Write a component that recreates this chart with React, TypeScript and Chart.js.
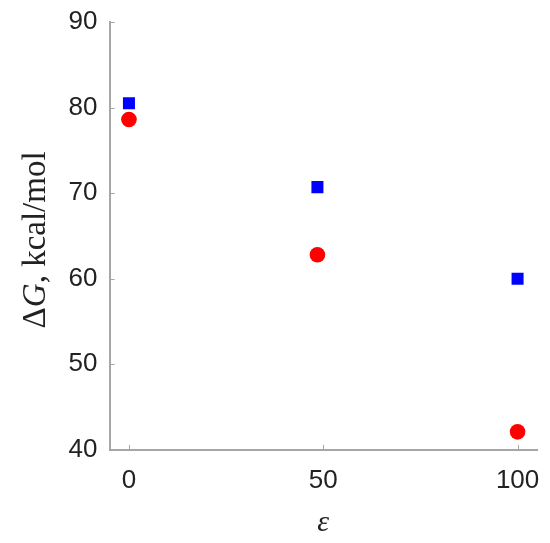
import React, { useEffect, useRef } from "react";
import { Chart, registerables } from "chart.js";

Chart.register(...registerables);

const epsBlue = [0, 48.5, 100];
const dGBlue = [80.5, 70.7, 60.0];
const epsRed = [0, 48.5, 100];
const dGRed = [78.6, 62.8, 42.1];
const xTicks = [0, 50, 100];
const yTicks = [40, 50, 60, 70, 80, 90];
const yTitleParts = [
  { text: "Δ", italic: false },
  { text: "G", italic: true },
  { text: ", kcal/mol", italic: false },
];

const AXIS = "#a6a6a6";
const SERIF = "'Liberation Serif', 'Times New Roman', serif";
const Y_TITLE_SIZE = 33;

const innerTicks = {
  id: "innerTicks",
  afterDraw(chart: any) {
    const { ctx, chartArea, scales } = chart;
    ctx.save();
    ctx.strokeStyle = AXIS;
    ctx.lineWidth = 1;
    const len = 5;
    scales.x.ticks.forEach((t: any) => {
      const px = Math.round(scales.x.getPixelForValue(t.value)) + 0.5;
      ctx.beginPath();
      ctx.moveTo(px, chartArea.bottom);
      ctx.lineTo(px, chartArea.bottom - len);
      ctx.stroke();
    });
    scales.y.ticks.forEach((t: any) => {
      const py = Math.round(scales.y.getPixelForValue(t.value)) + 0.5;
      ctx.beginPath();
      ctx.moveTo(chartArea.left, py);
      ctx.lineTo(chartArea.left + len, py);
      ctx.stroke();
    });
    ctx.restore();

    // y title with italic G
    const ys = scales.y;
    const cx = ys.left + (Y_TITLE_SIZE * 1.2) / 2;
    const cy = (chartArea.top + chartArea.bottom) / 2 + 4;
    ctx.save();
    ctx.translate(cx, cy);
    ctx.rotate(-Math.PI / 2);
    ctx.fillStyle = "#222";
    ctx.textBaseline = "middle";
    ctx.textAlign = "left";
    const fontFor = (it: boolean) => `${it ? "italic " : ""}${Y_TITLE_SIZE}px ${SERIF}`;
    let total = 0;
    const widths = yTitleParts.map((p) => {
      ctx.font = fontFor(p.italic);
      const w = ctx.measureText(p.text).width;
      total += w;
      return w;
    });
    let x = -total / 2;
    yTitleParts.forEach((p, i) => {
      ctx.font = fontFor(p.italic);
      ctx.fillText(p.text, x, 0);
      x += widths[i];
    });
    ctx.restore();
  },
};

export default function App() {
  const ref = useRef<HTMLCanvasElement>(null);
  useEffect(() => {
    const chart = new Chart(ref.current!, {
      type: "scatter",
      data: {
        datasets: [
          {
            label: "blue",
            data: epsBlue.map((x, i) => ({ x, y: dGBlue[i] })),
            pointStyle: "rect",
            pointRadius: 8.5,
            backgroundColor: "#0000ff",
            borderColor: "#0000ff",
            borderWidth: 0,
          },
          {
            label: "red",
            data: epsRed.map((x, i) => ({ x, y: dGRed[i] })),
            pointStyle: "circle",
            pointRadius: 7.8,
            backgroundColor: "#ff0000",
            borderColor: "#ff0000",
            borderWidth: 0,
          },
        ],
      },
      options: {
        animation: false,
        responsive: false,
        layout: { padding: { top: 0, right: 0, left: 17, bottom: 0 } },
        plugins: { legend: { display: false }, tooltip: { enabled: false } },
        scales: {
          x: {
            type: "linear",
            min: -5,
            max: 105,
            afterBuildTicks: (s: any) => {
              s.ticks = xTicks.map((v) => ({ value: v }));
            },
            afterFit: (s: any) => {
              s.paddingRight = 13;
              s.paddingLeft = 0;
            },
            grid: { display: true, drawOnChartArea: false, drawTicks: false },
            border: { display: true, color: AXIS, width: 2 },
            ticks: {
              color: "#222",
              font: { family: "Arial, 'Liberation Sans', sans-serif", size: 26 },
              padding: 15,
            },
            title: {
              display: true,
              text: "ε",
              color: "#222",
              font: { family: SERIF, size: 30, style: "italic", lineHeight: 1 },
              padding: { top: -3, bottom: 5 },
            },
          },
          y: {
            type: "linear",
            min: 40,
            max: 90,
            afterBuildTicks: (s: any) => {
              s.ticks = yTicks.map((v) => ({ value: v }));
            },
            afterFit: (s: any) => {
              s.paddingTop = 22;
              s.paddingBottom = 0;
            },
            grid: { display: true, drawOnChartArea: false, drawTicks: false },
            border: { display: true, color: AXIS, width: 2 },
            ticks: {
              color: "#222",
              font: { family: "Arial, 'Liberation Sans', sans-serif", size: 26 },
              padding: 12,
            },
            title: {
              display: true,
              text: "ΔG, kcal/mol",
              color: "rgba(0,0,0,0)",
              font: { family: SERIF, size: Y_TITLE_SIZE },
              padding: { top: 0, bottom: 0 },
            },
          },
        },
      },
      plugins: [innerTicks],
    });
    return () => chart.destroy();
  }, []);
  return (
    <div style={{ position: "fixed", left: 0, top: 0, width: 550, height: 543, background: "#fff" }}>
      <canvas ref={ref} width={550} height={543} />
    </div>
  );
}
